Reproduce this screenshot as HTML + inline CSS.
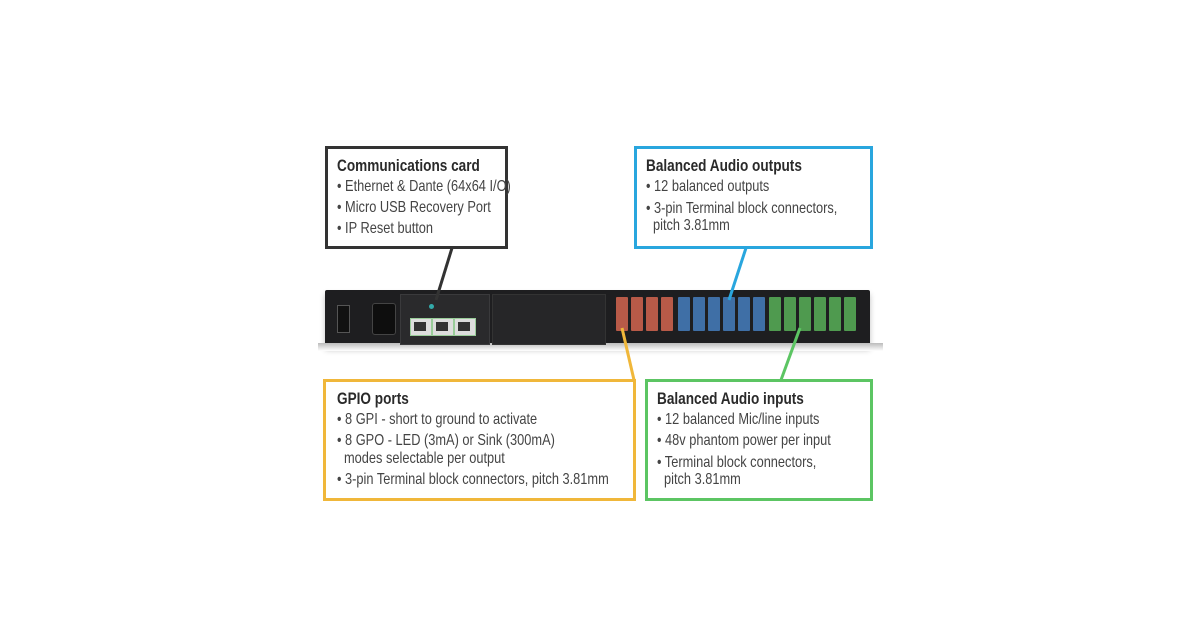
<!DOCTYPE html>
<html><head><meta charset="utf-8"><style>
body{margin:0;width:1200px;height:640px;background:#fff;position:relative;overflow:hidden;font-family:"Liberation Sans",sans-serif;color:#333}
.box{position:absolute;border:3px solid;box-sizing:border-box;background:#fff}
.t{position:absolute;white-space:nowrap;font-size:16px;color:#444;transform:scaleX(0.8);transform-origin:0 0}
.h{font-weight:bold;font-size:17px;color:#2a2a2a}
.dev{position:absolute;left:325px;top:290px;width:545px;height:56px;background:#1e1e20;border-radius:2px;box-shadow:0 4px 6px rgba(0,0,0,.25)}
.c{position:absolute;top:297px;width:12px;height:34px;border-radius:1px}
</style></head><body>
<div class="dev"></div>
<div style="position:absolute;left:318px;top:343px;width:565px;height:8px;background:linear-gradient(#bbb,#fff)"></div>
<div style="position:absolute;left:400px;top:294px;width:88px;height:49px;background:#2a2a2c;border:1px solid #3a3a3c"></div>
<div style="position:absolute;left:492px;top:294px;width:112px;height:49px;background:#262628;border:1px solid #333"></div>
<div style="position:absolute;left:337px;top:305px;width:11px;height:26px;background:#111;border:1px solid #555"></div>
<div style="position:absolute;left:372px;top:303px;width:22px;height:30px;background:#0e0e0e;border-radius:3px;border:1px solid #444"></div>
<div style="position:absolute;left:410px;top:318px;width:20px;height:16px;background:#ddd;border:1px solid #9c9"></div>
<div style="position:absolute;left:432px;top:318px;width:20px;height:16px;background:#ddd;border:1px solid #9c9"></div>
<div style="position:absolute;left:454px;top:318px;width:20px;height:16px;background:#ddd;border:1px solid #9c9"></div>
<div style="position:absolute;left:414px;top:322px;width:12px;height:9px;background:#333"></div>
<div style="position:absolute;left:436px;top:322px;width:12px;height:9px;background:#333"></div>
<div style="position:absolute;left:458px;top:322px;width:12px;height:9px;background:#333"></div>
<div style="position:absolute;left:429px;top:304px;width:5px;height:5px;border-radius:50%;background:#3aa"></div>
<div class="c" style="left:616px;background:#b85a48"></div>
<div class="c" style="left:631px;background:#b85a48"></div>
<div class="c" style="left:646px;background:#b85a48"></div>
<div class="c" style="left:661px;background:#b85a48"></div>
<div class="c" style="left:678px;background:#3f6fa6"></div>
<div class="c" style="left:693px;background:#3f6fa6"></div>
<div class="c" style="left:708px;background:#3f6fa6"></div>
<div class="c" style="left:723px;background:#3f6fa6"></div>
<div class="c" style="left:738px;background:#3f6fa6"></div>
<div class="c" style="left:753px;background:#3f6fa6"></div>
<div class="c" style="left:769px;background:#4f9a4f"></div>
<div class="c" style="left:784px;background:#4f9a4f"></div>
<div class="c" style="left:799px;background:#4f9a4f"></div>
<div class="c" style="left:814px;background:#4f9a4f"></div>
<div class="c" style="left:829px;background:#4f9a4f"></div>
<div class="c" style="left:844px;background:#4f9a4f"></div>
<svg style="position:absolute;left:0;top:0" width="1200" height="640">
<line x1="452" y1="248" x2="436" y2="300" stroke="#333" stroke-width="3"/>
<line x1="746" y1="248" x2="729" y2="300" stroke="#29a6de" stroke-width="3"/>
<line x1="634" y1="380" x2="622" y2="328" stroke="#f0b73a" stroke-width="3"/>
<line x1="781" y1="380" x2="800" y2="328" stroke="#5cc563" stroke-width="3"/>
</svg>
<div class="box" style="left:325px;top:146px;width:183px;height:103px;border-color:#333"></div>
<div class="t h" style="left:337px;top:156px">Communications card</div>
<div class="t" style="left:337px;top:178px">• Ethernet &amp; Dante (64x64 I/O)</div>
<div class="t" style="left:337px;top:199px">• Micro USB Recovery Port</div>
<div class="t" style="left:337px;top:220px">• IP Reset button</div>
<div class="box" style="left:634px;top:146px;width:239px;height:103px;border-color:#29a6de"></div>
<div class="t h" style="left:646px;top:156px">Balanced Audio outputs</div>
<div class="t" style="left:646px;top:178px">• 12 balanced outputs</div>
<div class="t" style="left:646px;top:200px">• 3-pin Terminal block connectors,</div>
<div class="t" style="left:653px;top:217px">pitch 3.81mm</div>
<div class="box" style="left:323px;top:379px;width:313px;height:122px;border-color:#f0b73a"></div>
<div class="t h" style="left:337px;top:389px">GPIO ports</div>
<div class="t" style="left:337px;top:411px">• 8 GPI - short to ground to activate</div>
<div class="t" style="left:337px;top:432px">• 8 GPO - LED (3mA) or Sink (300mA)</div>
<div class="t" style="left:344px;top:450px">modes selectable per output</div>
<div class="t" style="left:337px;top:471px">• 3-pin Terminal block connectors, pitch 3.81mm</div>
<div class="box" style="left:645px;top:379px;width:228px;height:122px;border-color:#5cc563"></div>
<div class="t h" style="left:657px;top:389px">Balanced Audio inputs</div>
<div class="t" style="left:657px;top:411px">• 12 balanced Mic/line inputs</div>
<div class="t" style="left:657px;top:432px">• 48v phantom power per input</div>
<div class="t" style="left:657px;top:454px">• Terminal block connectors,</div>
<div class="t" style="left:664px;top:471px">pitch 3.81mm</div>
</body></html>
